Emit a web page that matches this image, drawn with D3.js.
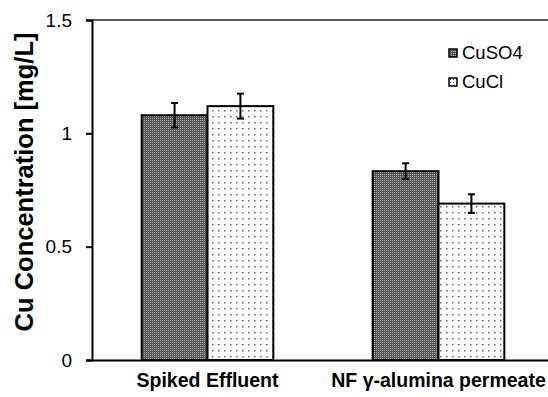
<!DOCTYPE html>
<html>
<head>
<meta charset="utf-8">
<script src="https://cdn.jsdelivr.net/npm/d3@7"></script>
<style>
  html, body { margin: 0; padding: 0; background: #fff; }
  svg { display: block; font-family: "Liberation Sans", Arial, sans-serif; }
</style>
</head>
<body>
<svg id="chart" width="548" height="397"></svg>
<script>
// Copper concentration per sample, two copper salts
const categories = ["Spiked Effluent", "NF γ-alumina permeate"];
const seriesNames = ["CuSO4", "CuCl"];
const cuso4Values = [1.08, 0.833];
const cuclValues = [1.12, 0.69];
const cuso4Errors = [0.054, 0.035];
const cuclErrors = [0.055, 0.041];
const yTicks = [0, 0.5, 1, 1.5];
const yTickLabels = ["0", "0.5", "1", "1.5"];

const series = [
  { name: seriesNames[0], values: cuso4Values, errors: cuso4Errors, fill: "url(#densePattern)" },
  { name: seriesNames[1], values: cuclValues, errors: cuclErrors, fill: "url(#sparsePattern)" }
];

const svg = d3.select("#chart");
const plotLeft = 92, plotRight = 554, plotTop = 20, plotBottom = 360;

// Hatch patterns for the bar fills
const defs = svg.append("defs");
const dense = defs.append("pattern").attr("id", "densePattern")
  .attr("patternUnits", "userSpaceOnUse").attr("width", 2).attr("height", 2);
dense.append("rect").attr("width", 2).attr("height", 2).attr("fill", "#555");
dense.append("rect").attr("width", 1).attr("height", 1).attr("fill", "#b0b0b0");

const sparse = defs.append("pattern").attr("id", "sparsePattern")
  .attr("patternUnits", "userSpaceOnUse").attr("width", 6).attr("height", 6);
sparse.append("rect").attr("width", 6).attr("height", 6).attr("fill", "#fff");
sparse.append("rect").attr("x", 2).attr("y", 2).attr("width", 1.5).attr("height", 1.5).attr("fill", "#666");

const legendSparse = defs.append("pattern").attr("id", "legendSparse")
  .attr("patternUnits", "userSpaceOnUse").attr("width", 3).attr("height", 3);
legendSparse.append("rect").attr("width", 3).attr("height", 3).attr("fill", "#fff");
legendSparse.append("rect").attr("x", 1).attr("y", 1).attr("width", 1).attr("height", 1).attr("fill", "#555");

const x0 = d3.scaleBand().domain(categories).range([plotLeft, plotRight])
  .paddingInner(0.43).paddingOuter(0.215);
const x1 = d3.scaleBand().domain(seriesNames).range([0, x0.bandwidth()]);
const y = d3.scaleLinear().domain([0, 1.5]).range([plotBottom, plotTop]);

// Top border of the plot area
svg.append("line")
  .attr("x1", plotLeft).attr("x2", plotRight)
  .attr("y1", y(1.5)).attr("y2", y(1.5))
  .attr("stroke", "#222").attr("stroke-width", 1.5);

// Bars
const groups = svg.append("g").selectAll("g")
  .data(series).join("g");

groups.selectAll("rect")
  .data(s => s.values.map((v, i) => ({ cat: categories[i], v, e: s.errors[i], name: s.name, fill: s.fill })))
  .join("rect")
  .attr("x", d => x0(d.cat) + x1(d.name))
  .attr("y", d => y(d.v))
  .attr("width", x1.bandwidth())
  .attr("height", d => y(0) - y(d.v))
  .attr("fill", d => d.fill)
  .attr("stroke", "#000")
  .attr("stroke-width", 2);

// Error bars
const errs = groups.selectAll("g.err")
  .data(s => s.values.map((v, i) => ({ cat: categories[i], v, e: s.errors[i], name: s.name })))
  .join("g").attr("class", "err")
  .attr("stroke", "#000").attr("stroke-width", 2);
const cx = d => x0(d.cat) + x1(d.name) + x1.bandwidth() / 2;
errs.append("line")
  .attr("x1", cx).attr("x2", cx)
  .attr("y1", d => y(d.v + d.e)).attr("y2", d => y(d.v - d.e));
errs.append("line")
  .attr("x1", d => cx(d) - 3.5).attr("x2", d => cx(d) + 3.5)
  .attr("y1", d => y(d.v + d.e)).attr("y2", d => y(d.v + d.e));
errs.append("line")
  .attr("x1", d => cx(d) - 3.5).attr("x2", d => cx(d) + 3.5)
  .attr("y1", d => y(d.v - d.e)).attr("y2", d => y(d.v - d.e));

// Y axis
const yAxis = svg.append("g")
  .attr("transform", `translate(${plotLeft},0)`)
  .call(d3.axisLeft(y).tickValues(yTicks)
    .tickFormat((d, i) => yTickLabels[i]).tickSize(6).tickPadding(14));
yAxis.select(".domain").attr("stroke", "#000").attr("stroke-width", 2);
yAxis.selectAll(".tick line").attr("stroke", "#000").attr("stroke-width", 2);
yAxis.selectAll(".tick text")
  .attr("font-family", "Liberation Sans, Arial, sans-serif")
  .attr("font-size", 19).attr("fill", "#000");

// X axis
const xAxis = svg.append("g")
  .attr("transform", `translate(0,${plotBottom})`)
  .call(d3.axisBottom(x0).tickSize(0).tickPadding(13));
xAxis.select(".domain").attr("stroke", "#000").attr("stroke-width", 2);
xAxis.selectAll(".tick text")
  .attr("font-family", "Liberation Sans, Arial, sans-serif")
  .attr("font-size", 19.5).attr("font-weight", "bold").attr("fill", "#000");

// Y axis title
svg.append("text")
  .attr("transform", "translate(33,182) rotate(-90)")
  .attr("text-anchor", "middle")
  .attr("font-size", 25.5).attr("font-weight", "bold").attr("fill", "#000")
  .text("Cu Concentration [mg/L]");

// Legend
const legendFills = ["url(#densePattern)", "url(#legendSparse)"];
const legend = svg.append("g").selectAll("g")
  .data(seriesNames).join("g")
  .attr("transform", (d, i) => `translate(449,${49 + i * 29})`);
legend.append("rect")
  .attr("width", 8).attr("height", 8)
  .attr("fill", (d, i) => legendFills[i])
  .attr("stroke", "#000").attr("stroke-width", 1.5);
legend.append("text")
  .attr("x", 13).attr("y", 9.5)
  .attr("font-size", 18.5).attr("fill", "#000")
  .text(d => d);
</script>
</body>
</html>
